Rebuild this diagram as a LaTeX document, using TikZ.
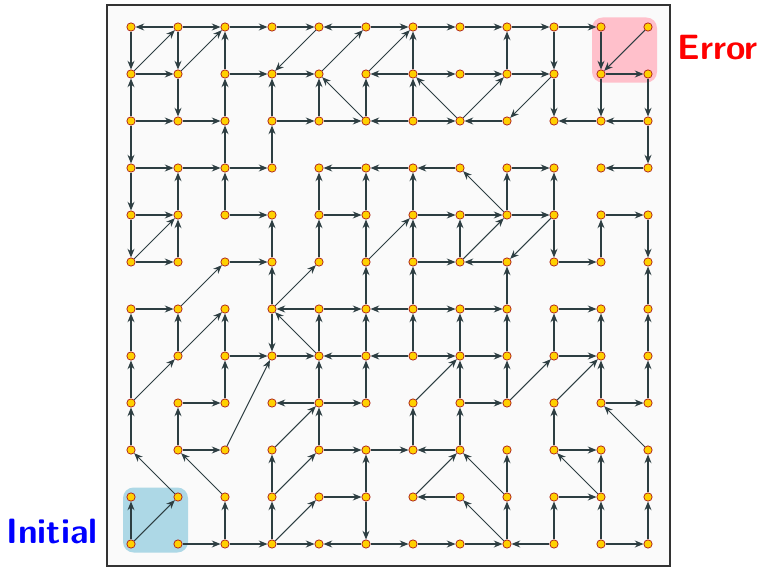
\documentclass[tikz,border=0pt]{standalone}
\usepackage{xcolor}
\usepackage{tikz}
\usetikzlibrary{arrows.meta}
\definecolor{linkgray}{RGB}{45,62,66}
\definecolor{dotfill}{RGB}{255,208,0}
\definecolor{dotedge}{RGB}{170,25,25}
\definecolor{framefill}{RGB}{250,250,250}
\definecolor{errpink}{RGB}{255,192,203}
\definecolor{initblue}{RGB}{173,216,230}
\tikzset{
  maze-frame/.style={draw=black!80, fill=framefill, line width=1.6pt},
  maze-zone/.style={rounded corners=9pt, inner sep=0pt, minimum size=19.5mm},
  maze-dot/.style={circle, draw=dotedge, fill=dotfill, line width=0.6pt, inner sep=0pt, minimum size=2.5mm},
  maze-link/.style={-{Stealth[length=2.6mm,width=2.1mm]}, draw=linkgray, line width=0.9pt},
  maze-label/.style={font=\sffamily\bfseries\fontsize{30}{33}\selectfont}
}

\begin{document}
\begin{tikzpicture}[x=0.3mm, y=-0.3mm]
  \useasboundingbox (0,0) rectangle (764,568);
  \node[maze-frame, minimum width=168.9mm, minimum height=168.3mm, inner sep=0pt] (box) at (388.5,285.5) {};
  \node[maze-zone, fill=errpink] (errzone) at (624.5,50) {};
  \node[maze-zone, fill=initblue] (initzone) at (155.5,520) {};
  \node[maze-label, text=red] (errlbl) at (718,48) {Error};
  \node[maze-label, text=blue] (initlbl) at (52,531) {Initial};
  % states
  \foreach \c in {0,...,11}
    \foreach \r in {0,...,11}
      \node[maze-dot] (q\c-\r) at ({131+47*\c},{27+47*\r}) {};
  % horizontal moves
  \foreach \a/\b in {1-0/0-0, 1-0/2-0, 2-0/3-0, 3-0/4-0, 5-0/4-0, 5-0/6-0, 6-0/7-0, 7-0/8-0, 8-0/9-0, 9-0/10-0,
      0-1/1-1, 2-1/3-1, 3-1/4-1, 6-1/5-1, 6-1/7-1, 7-1/8-1, 8-1/9-1, 10-1/11-1,
      0-2/1-2, 1-2/2-2, 3-2/4-2, 4-2/5-2, 6-2/5-2, 6-2/7-2, 8-2/7-2, 10-2/9-2, 11-2/10-2,
      0-3/1-3, 1-3/2-3, 2-3/3-3, 5-3/4-3, 6-3/5-3, 7-3/6-3, 8-3/9-3, 11-3/10-3,
      0-4/1-4, 2-4/3-4, 4-4/5-4, 6-4/7-4, 7-4/8-4, 8-4/9-4, 10-4/11-4,
      0-5/1-5, 2-5/3-5, 6-5/7-5, 8-5/7-5, 9-5/10-5,
      0-6/1-6, 4-6/3-6, 4-6/5-6, 6-6/5-6, 6-6/7-6, 7-6/8-6, 9-6/10-6,
      2-7/3-7, 3-7/4-7, 5-7/4-7, 6-7/5-7, 6-7/7-7, 7-7/8-7, 9-7/10-7,
      1-8/2-8, 4-8/3-8, 4-8/5-8, 7-8/8-8, 10-8/11-8,
      1-9/2-9, 4-9/5-9, 5-9/6-9, 7-9/6-9, 9-9/10-9,
      4-10/5-10, 7-10/6-10, 9-10/10-10,
      1-11/2-11, 2-11/3-11, 3-11/4-11, 5-11/4-11, 5-11/6-11, 6-11/7-11, 7-11/8-11, 9-11/8-11, 10-11/11-11}
    \draw[maze-link] (q\a) -- (q\b);
  % vertical moves
  \foreach \a/\b in {0-0/0-1, 0-2/0-1, 0-2/0-3, 0-3/0-4, 0-4/0-5, 0-7/0-6, 0-8/0-7, 0-9/0-8, 0-11/0-10,
      1-0/1-1, 1-1/1-2, 1-4/1-3, 1-5/1-4, 1-7/1-6, 1-9/1-8,
      2-1/2-0, 2-2/2-1, 2-3/2-2, 2-4/2-3, 2-7/2-6, 2-8/2-7, 2-11/2-10,
      3-2/3-1, 3-3/3-2, 3-5/3-4, 3-6/3-5, 3-6/3-7, 3-10/3-9, 3-11/3-10,
      4-2/4-1, 4-4/4-3, 4-5/4-4, 4-7/4-6, 4-8/4-7, 4-9/4-8,
      5-2/5-1, 5-4/5-3, 5-5/5-4, 5-6/5-5, 5-7/5-6, 5-8/5-7, 5-10/5-9, 5-10/5-11,
      6-1/6-0, 6-2/6-1, 6-4/6-3, 6-5/6-4, 6-6/6-5, 6-7/6-6, 6-9/6-8,
      7-5/7-4, 7-7/7-6, 7-8/7-7, 7-9/7-8,
      8-1/8-0, 8-4/8-3, 8-6/8-5, 8-7/8-6, 8-8/8-7, 8-10/8-9, 8-11/8-10,
      9-0/9-1, 9-1/9-2, 9-4/9-3, 9-4/9-5, 9-7/9-6, 9-9/9-8, 9-11/9-10,
      10-0/10-1, 10-1/10-2, 10-5/10-4, 10-7/10-6, 10-8/10-7, 10-10/10-9, 10-11/10-10,
      11-1/11-2, 11-2/11-3, 11-4/11-5, 11-6/11-5, 11-7/11-6, 11-8/11-7, 11-10/11-9, 11-11/11-10}
    \draw[maze-link] (q\a) -- (q\b);
  % diagonal moves
  \foreach \a/\b in {0-1/1-0, 1-1/2-0, 4-0/3-1, 4-1/5-0, 5-1/6-0, 5-2/4-1, 7-2/6-1, 7-2/8-1, 9-1/8-2, 11-0/10-1,
      0-5/1-4, 1-6/2-5, 3-6/4-5, 5-5/6-4, 8-4/7-3, 7-5/8-4, 9-4/8-5,
      0-8/1-7, 1-7/2-6, 4-7/3-6, 2-9/3-7, 6-8/7-7, 8-8/9-7, 9-8/10-7, 11-9/10-8,
      1-10/0-9, 2-10/1-9, 0-11/1-10, 3-9/4-8, 3-10/4-9, 3-11/4-10, 6-10/7-9, 8-10/7-9, 8-11/7-10, 10-10/9-9}
    \draw[maze-link] (q\a) -- (q\b);
\end{tikzpicture}
\end{document}
